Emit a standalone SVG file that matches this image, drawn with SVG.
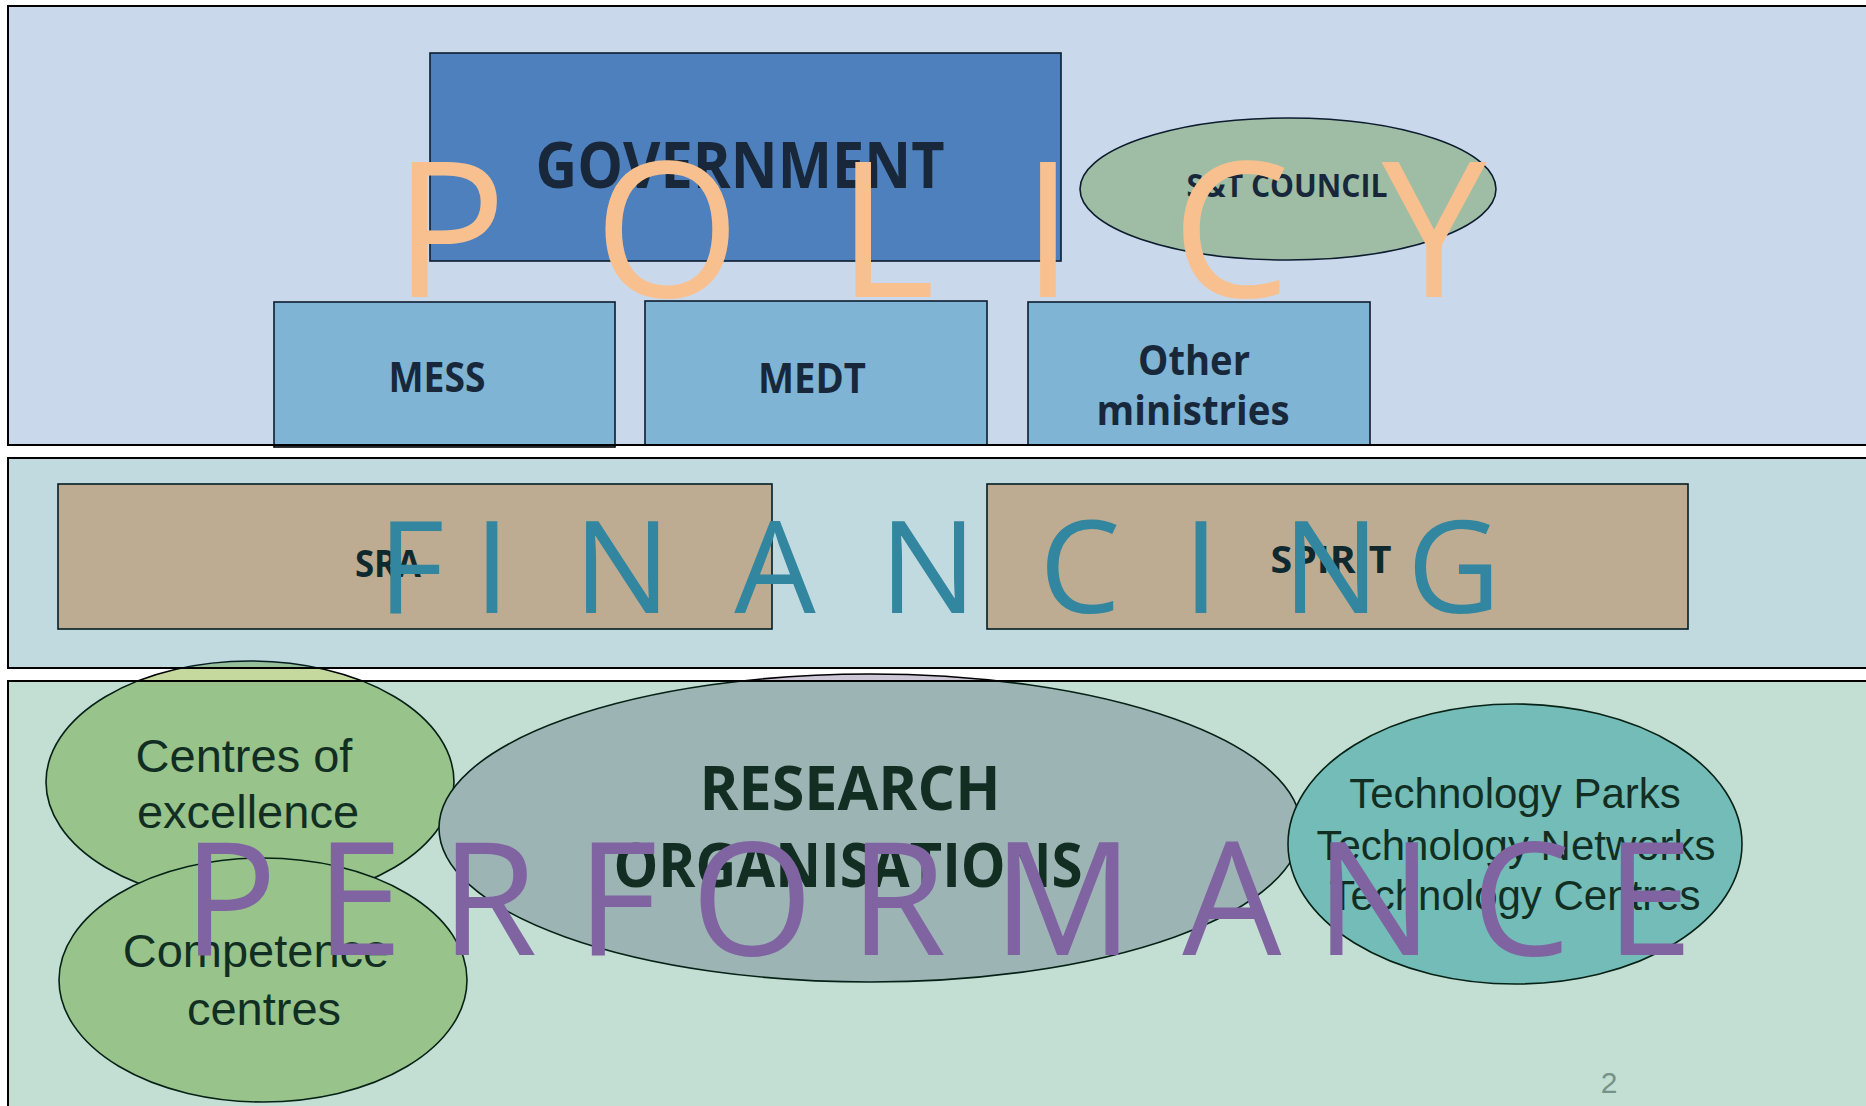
<svg xmlns="http://www.w3.org/2000/svg" width="1866" height="1106" viewBox="0 0 1866 1106">
<style>
.box{stroke:#000;stroke-width:1.6}
.lb{font-family:"Open Sans","DejaVu Sans",sans-serif;font-weight:700;fill:#111;text-anchor:middle}
.lr{font-family:"Liberation Sans",Arial,sans-serif;fill:#111;text-anchor:middle}
.panel{stroke:#000;stroke-width:2;fill-opacity:0.26}
.big{font-family:"Open Sans","DejaVu Sans",sans-serif;font-weight:400;text-anchor:middle}
</style>
<rect width="1866" height="1106" fill="#fff"/>
<g id="connectors"/>
<g id="nodes">
<g id="government"><rect class="box" x="430" y="53" width="631" height="208" fill="#5a88c1"/><text class="lb" x="740" y="188" font-size="64" textLength="409" lengthAdjust="spacingAndGlyphs">GOVERNMENT</text></g>
<g id="st-council"><ellipse class="box" cx="1288" cy="189" rx="208" ry="71" fill="#c7daa0"/><text class="lb" x="1287" y="197" font-size="32" textLength="201" lengthAdjust="spacingAndGlyphs">S&amp;T COUNCIL</text></g>
<g id="mess"><rect class="box" x="274" y="302" width="341" height="145" fill="#9bcee1"/><text class="lb" x="437" y="392" font-size="42" textLength="97" lengthAdjust="spacingAndGlyphs">MESS</text></g>
<g id="medt"><rect class="box" x="645" y="301" width="342" height="144" fill="#9bcee1"/><text class="lb" x="812" y="393" font-size="42" textLength="108" lengthAdjust="spacingAndGlyphs">MEDT</text></g>
<g id="other-ministries"><rect class="box" x="1028" y="302" width="342" height="143" fill="#9bcee1"/><text class="lb" x="1194" y="375" font-size="42" textLength="112" lengthAdjust="spacingAndGlyphs">Other</text><text class="lb" x="1193" y="425" font-size="42" textLength="193" lengthAdjust="spacingAndGlyphs">ministries</text></g>
<g id="sra"><rect class="box" x="58" y="484" width="714" height="145" fill="#fac295"/><text class="lb" x="388" y="577" font-size="37" textLength="66" lengthAdjust="spacingAndGlyphs">SRA</text></g>
<g id="spirit"><rect class="box" x="987" y="484" width="701" height="145" fill="#fac295"/><text class="lb" x="1331" y="573" font-size="37" textLength="121" lengthAdjust="spacingAndGlyphs">SPIRIT</text></g>
<g id="centres-of-excellence"><ellipse class="box" cx="250" cy="782" rx="204" ry="121" fill="#c5d99e"/><text class="lr" x="244" y="772" font-size="47">Centres of</text><text class="lr" x="248" y="828" font-size="47">excellence</text></g>
<g id="competence-centres"><ellipse class="box" cx="263" cy="980" rx="204" ry="122" fill="#c5d99e"/><text class="lr" x="256" y="967" font-size="47">Competence</text><text class="lr" x="264" y="1025" font-size="47">centres</text></g>
<g id="research-organisations"><ellipse class="box" cx="870" cy="828" rx="431" ry="154" fill="#ccc6d6"/><text class="lb" x="850" y="810" font-size="60" textLength="301" lengthAdjust="spacingAndGlyphs">RESEARCH</text><text class="lb" x="848" y="887" font-size="60" textLength="469" lengthAdjust="spacingAndGlyphs">ORGANISATIONS</text></g>
<g id="technology"><ellipse class="box" cx="1515" cy="844" rx="227" ry="140" fill="#94d0d9"/><text class="lr" x="1515" y="808" font-size="42">Technology Parks</text><text class="lr" x="1516" y="860" font-size="42">Technology Networks</text><text class="lr" x="1515" y="910" font-size="42">Technology Centres</text></g>
</g>
<g id="page-number"><text class="lr" x="1609" y="1093" font-size="30" fill="#999" style="fill:#999">2</text></g>
<g id="panels">
<rect id="policy-panel" class="panel" x="8" y="6" width="1880" height="439" fill="#306db3"/>
<rect id="financing-panel" class="panel" x="8" y="458" width="1880" height="210" fill="#107188"/>
<rect id="performance-panel" class="panel" x="8" y="681" width="1880" height="440" fill="#188456"/>
</g>
<g id="titles">
<text class="big" font-size="188" fill="#f9c08f" x="450 667 886 1048 1231 1434" y="297">POLICY</text>
<text class="big" font-size="129" fill="#33869f" x="411 492 622 775 928 1080 1201 1331 1454" y="613">FINANCING</text>
<text class="big" font-size="157" fill="#8064a2" x="230 359 489 617 752 898 1063 1232 1374 1521 1649" y="955">PERFORMANCE</text>
</g>
</svg>
